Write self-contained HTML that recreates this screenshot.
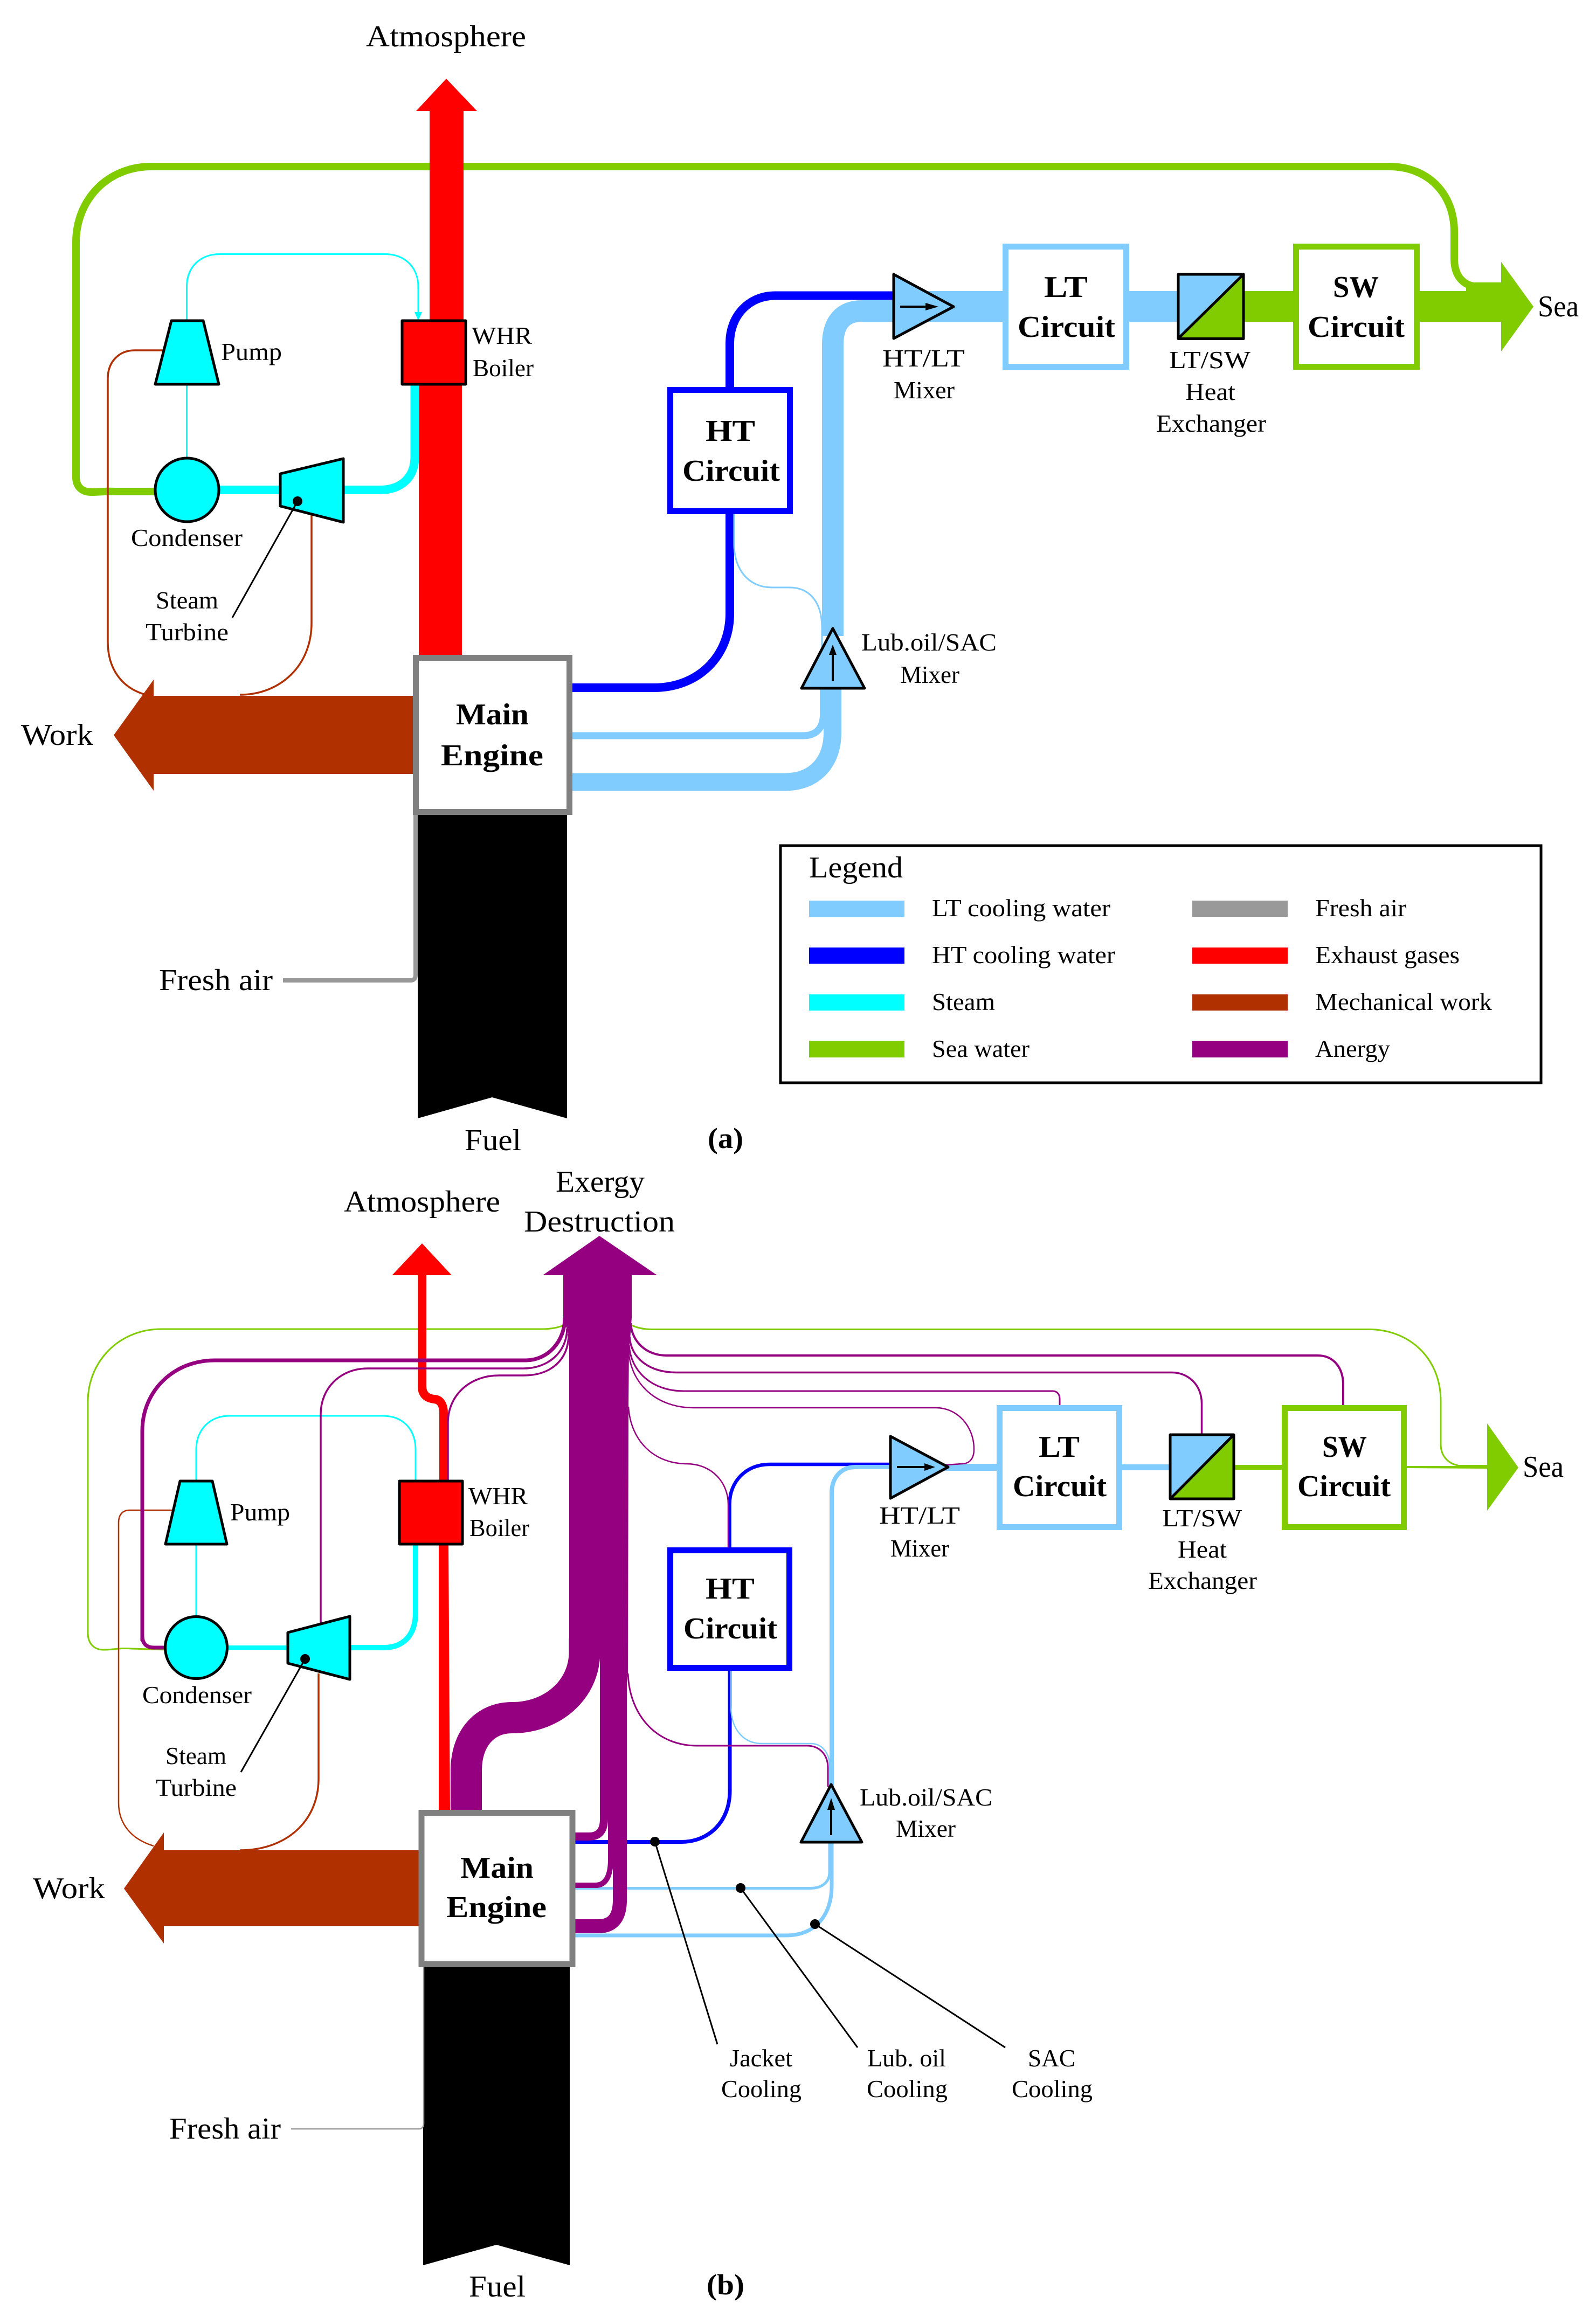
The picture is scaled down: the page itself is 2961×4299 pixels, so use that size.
<!DOCTYPE html>
<html><head><meta charset="utf-8"><title>Exergy flow diagram</title>
<style>
html,body{margin:0;padding:0;background:#fff}
svg{display:block}
text{font-family:"Liberation Serif",serif;font-size:46px;fill:#000}
.b{font-size:56px;font-weight:bold}
.l{font-size:56px}
.p{fill:none}
.k{stroke:#000;stroke-width:5;stroke-linejoin:round}
</style></head><body>
<svg xmlns="http://www.w3.org/2000/svg" width="2961" height="4299" viewBox="0 0 2961 4299">
<rect width="2961" height="4299" fill="#fff"/>

<!-- ============ PANEL A ============ -->
<!-- green loop -->
<path class="p" stroke="#80cc00" stroke-width="14" d="M2744,532 C2715,532 2698,512 2698,480 L2698,430 C2698,360 2650,309 2577,309 L281,309 C200,309 141,370 141,450 L141,885 C141,903 152,913 170,913 C185,913 195,911 215,912 L290,912"/>
<path class="p" stroke="#80cc00" stroke-width="16" d="M2720,532 L2790,532"/>
<!-- red -->
<polygon fill="#ff0000" points="828,146 885,206 860,206 860,600 797,600 797,206 772,206"/>
<rect x="777" y="710" width="80" height="510" fill="#ff0000"/>
<!-- steam -->
<path class="p" stroke="#00ffff" stroke-width="3" d="M346.5,850 L346.5,595 M346.5,595 L346.5,532 C346.5,495 372,471.5 408,471.5 L714,471.5 C752,471.5 776,497 776,532 L776,585"/>
<polygon fill="#00ffff" points="769,579 783,579 776,595"/>
<path class="p" stroke="#00ffff" stroke-width="16" d="M400,909 L705,909 C745,909 769.5,885 769.5,848 L769.5,710"/>
<!-- mech thin -->
<path class="p" stroke="#b03000" stroke-width="3.5" d="M302,650 L250,650 C220,650 200,672 200,702 L200,1191 C200,1240 225,1275 267,1288"/>
<path class="p" stroke="#b03000" stroke-width="3.5" d="M578,950 L578,1156 C578,1235 520,1289 445,1289"/>
<!-- components -->
<polygon class="k" fill="#00ffff" points="318,595 377,595 406,713 288,713"/>
<circle class="k" cx="347" cy="909" r="59" fill="#00ffff"/>
<polygon class="k" fill="#00ffff" points="520,879 637,851 637,969 520,939"/>
<rect class="k" x="746" y="595" width="118" height="118" fill="#ff0000"/>
<circle cx="552" cy="930" r="9" fill="#000"/>
<line x1="552" y1="930" x2="431" y2="1146" stroke="#000" stroke-width="3"/>
<!-- work arrow -->
<polygon fill="#b03000" points="211,1364 285,1261 285,1291 770,1291 770,1436 285,1436 285,1467"/>
<!-- fuel -->
<polygon fill="#000" points="775,1505 1052,1505 1052,2075 913,2036 775,2075"/>
<!-- fresh air -->
<path class="p" stroke="#999999" stroke-width="8" d="M525,1819 L762,1819 C768,1819 771,1815 771,1809 L771,1510"/>
<!-- HT -->
<path class="p" stroke="#0000ff" stroke-width="16" d="M1354,720 L1354,637 C1354,585 1390,548.5 1438,548.5 L1660,548.5"/>
<path class="p" stroke="#0000ff" stroke-width="16" d="M1354,950 L1354,1138 C1354,1218 1295,1276 1213,1276 L1060,1276"/>
<!-- LT -->
<path class="p" stroke="#80ccff" stroke-width="40" d="M1545,1180 L1545,640 C1545,597 1565,577 1600,577 L1665,577"/>
<rect x="1700" y="540" width="165" height="57" fill="#80ccff"/>
<rect x="2090" y="540" width="100" height="57" fill="#80ccff"/>
<path class="p" stroke="#80ccff" stroke-width="33" d="M1060,1451 L1456,1451 C1515,1451 1544.5,1410 1544.5,1360 L1544.5,1270"/>
<path class="p" stroke="#80ccff" stroke-width="13" d="M1060,1365 L1490,1365 C1515,1365 1527.5,1350 1527.5,1325 L1527.5,1270"/>
<path class="p" stroke="#80ccff" stroke-width="3" d="M1362,950 L1362,1010 C1362,1058 1390,1090 1432,1090 L1465,1090 C1500,1090 1525,1115 1525,1165 L1525,1220"/>
<!-- green band and arrow -->
<rect x="2300" y="540" width="105" height="57" fill="#80cc00"/>
<polygon fill="#80cc00" points="2630,540 2785,540 2785,486 2845,569 2785,652 2785,597 2630,597"/>
<!-- mixers -->
<polygon class="k" fill="#80ccff" points="1658,509 1769,569 1658,628"/>
<line x1="1670" y1="569" x2="1725" y2="569" stroke="#000" stroke-width="4"/>
<polygon points="1717,562 1741,569 1717,576"/>
<polygon class="k" fill="#80ccff" points="1545,1166 1487,1277 1604,1277"/>
<line x1="1545" y1="1264" x2="1545" y2="1210" stroke="#000" stroke-width="4"/>
<polygon points="1538,1215 1545,1196 1552,1215"/>
<!-- HX -->
<polygon fill="#80ccff" points="2186,509 2307,509 2186,628"/>
<polygon fill="#80cc00" points="2307,509 2307,628 2186,628"/>
<rect class="k" x="2186" y="509" width="121" height="119.500" fill="none"/>
<line x1="2186" y1="628" x2="2307" y2="509" stroke="#000" stroke-width="5"/>
<!-- boxes -->
<rect x="771.500" y="1220.500" width="285" height="286" fill="#fff" stroke="#808080" stroke-width="11"/>
<rect x="1243.500" y="723.500" width="222" height="225" fill="#fff" stroke="#0000ff" stroke-width="11"/>
<rect x="1865.500" y="457.500" width="224" height="223" fill="#fff" stroke="#80ccff" stroke-width="11"/>
<rect x="2404.500" y="457.500" width="224" height="223" fill="#fff" stroke="#80cc00" stroke-width="11"/>
<!-- texts A -->
<text class="l" x="679" y="86" textLength="297" lengthAdjust="spacingAndGlyphs">Atmosphere</text>
<text x="875" y="638" textLength="112" lengthAdjust="spacingAndGlyphs">WHR</text>
<text x="877" y="698" textLength="113" lengthAdjust="spacingAndGlyphs">Boiler</text>
<text x="410" y="668" textLength="113" lengthAdjust="spacingAndGlyphs">Pump</text>
<text x="243" y="1013" textLength="207" lengthAdjust="spacingAndGlyphs">Condenser</text>
<text x="289" y="1129" textLength="116" lengthAdjust="spacingAndGlyphs">Steam</text>
<text x="270" y="1188" textLength="154" lengthAdjust="spacingAndGlyphs">Turbine</text>
<text class="l" x="39" y="1382" textLength="134" lengthAdjust="spacingAndGlyphs">Work</text>
<text class="l" x="295" y="1837" textLength="211" lengthAdjust="spacingAndGlyphs">Fresh air</text>
<text class="l" x="862" y="2134" textLength="105" lengthAdjust="spacingAndGlyphs">Fuel</text>
<text class="b" x="846" y="1344" textLength="135" lengthAdjust="spacingAndGlyphs">Main</text>
<text class="b" x="818" y="1420" textLength="190" lengthAdjust="spacingAndGlyphs">Engine</text>
<text class="b" x="1309" y="818" textLength="92" lengthAdjust="spacingAndGlyphs">HT</text>
<text class="b" x="1266" y="892" textLength="181" lengthAdjust="spacingAndGlyphs">Circuit</text>
<text class="b" x="1937" y="551" textLength="81" lengthAdjust="spacingAndGlyphs">LT</text>
<text class="b" x="1888" y="625" textLength="181" lengthAdjust="spacingAndGlyphs">Circuit</text>
<text class="b" x="2473" y="551" textLength="85" lengthAdjust="spacingAndGlyphs">SW</text>
<text class="b" x="2426" y="625" textLength="180" lengthAdjust="spacingAndGlyphs">Circuit</text>
<text x="1637" y="680" textLength="153" lengthAdjust="spacingAndGlyphs">HT/LT</text>
<text x="1658" y="739" textLength="113" lengthAdjust="spacingAndGlyphs">Mixer</text>
<text x="2169" y="683" textLength="151" lengthAdjust="spacingAndGlyphs">LT/SW</text>
<text x="2199" y="742" textLength="93" lengthAdjust="spacingAndGlyphs">Heat</text>
<text x="2145" y="801" textLength="204" lengthAdjust="spacingAndGlyphs">Exchanger</text>
<text class="l" x="2853" y="587" textLength="76" lengthAdjust="spacingAndGlyphs">Sea</text>
<text x="1598" y="1207" textLength="251" lengthAdjust="spacingAndGlyphs">Lub.oil/SAC</text>
<text x="1670" y="1267" textLength="110" lengthAdjust="spacingAndGlyphs">Mixer</text>
<text x="1313" y="2130" font-weight="bold" style="font-size:54px" textLength="66" lengthAdjust="spacingAndGlyphs">(a)</text>

<!-- legend -->
<rect x="1448" y="1569" width="1411" height="440" fill="#fff" stroke="#000" stroke-width="5"/>
<text class="l" x="1501" y="1628" textLength="174" lengthAdjust="spacingAndGlyphs">Legend</text>
<rect x="1501" y="1671" width="177" height="30" fill="#80ccff"/>
<rect x="1501" y="1758" width="177" height="30" fill="#0000ff"/>
<rect x="1501" y="1845" width="177" height="30" fill="#00ffff"/>
<rect x="1501" y="1931" width="177" height="31" fill="#80cc00"/>
<rect x="2212" y="1671" width="177" height="30" fill="#999999"/>
<rect x="2212" y="1758" width="177" height="30" fill="#ff0000"/>
<rect x="2212" y="1845" width="177" height="30" fill="#b03000"/>
<rect x="2212" y="1931" width="177" height="31" fill="#950080"/>
<text x="1729" y="1700" textLength="331" lengthAdjust="spacingAndGlyphs">LT cooling water</text>
<text x="1729" y="1787" textLength="340" lengthAdjust="spacingAndGlyphs">HT cooling water</text>
<text x="1729" y="1874" textLength="117" lengthAdjust="spacingAndGlyphs">Steam</text>
<text x="1729" y="1961" textLength="181" lengthAdjust="spacingAndGlyphs">Sea water</text>
<text x="2440" y="1700" textLength="169" lengthAdjust="spacingAndGlyphs">Fresh air</text>
<text x="2440" y="1787" textLength="268" lengthAdjust="spacingAndGlyphs">Exhaust gases</text>
<text x="2440" y="1874" textLength="328" lengthAdjust="spacingAndGlyphs">Mechanical work</text>
<text x="2440" y="1961" textLength="139" lengthAdjust="spacingAndGlyphs">Anergy</text>

<!-- ============ PANEL B ============ -->
<!-- green thin -->
<path class="p" stroke="#80cc00" stroke-width="3" d="M1048,2458 C1035,2464 1020,2466 1005,2466 L299,2466 C222,2466 163,2525 163,2601 L163,3030 C163,3050 175,3061 192,3061 C210,3061 225,3057 245,3059 L310,3061"/>
<path class="p" stroke="#80cc00" stroke-width="3" d="M1170,2458 C1182,2464 1195,2466.500 1210,2466.500 L2539,2466.500 C2615,2466.500 2673,2520 2673,2600 L2673,2680 C2673,2700 2685,2715 2705,2719"/>
<!-- steam -->
<path class="p" stroke="#00ffff" stroke-width="3" d="M364,3000 L364,2690 C364,2652 390,2627 425,2627 L710,2627 C748,2627 771,2652 771,2690 L771,2750"/>
<path class="p" stroke="#00ffff" stroke-width="8" d="M420,3057 L540,3057"/>
<path class="p" stroke="#00ffff" stroke-width="10" d="M640,3057 L712,3057 C750,3057 771,3032 771,2992 L771,2860"/>
<!-- mech thin -->
<path class="p" stroke="#b03000" stroke-width="2.500" d="M322,2802 L240,2802 C228,2802 220,2810 220,2825 L220,3345 C220,3385 245,3413 285,3425"/>
<path class="p" stroke="#b03000" stroke-width="3.500" d="M591,3105 L591,3300 C591,3380 530,3433 445,3433"/>
<!-- red -->
<path class="p" stroke="#ff0000" stroke-width="16" d="M783,2350 L783,2572 C783,2590 795,2595 806,2596 C818,2597 823,2608 823,2622 L823,2760"/>
<polygon fill="#ff0000" points="783,2307 838,2366 727.500,2366"/>
<polygon fill="#ff0000" points="814,2860 832,2860 835,3365 814,3365"/>
<!-- LT & HT -->
<path class="p" stroke="#0000ff" stroke-width="6.500" d="M1353.500,2875 L1353.500,2791 C1353.500,2748 1385,2717 1427,2717 L1655,2717"/>
<path class="p" stroke="#0000ff" stroke-width="7" d="M1354,3095 L1354,3323 C1354,3380 1315,3417.500 1264,3417.500 L1062,3417.500"/>
<path class="p" stroke="#80ccff" stroke-width="8" d="M1543,3420 L1543,2770 C1543,2742 1560,2722 1587,2722 L1660,2722"/>
<rect x="1710" y="2716" width="145" height="13" fill="#80ccff"/>
<rect x="2076" y="2717" width="100" height="11" fill="#80ccff"/>
<path class="p" stroke="#80ccff" stroke-width="2.500" d="M1356,3095 L1356,3165 C1356,3210 1380,3235 1414,3235 L1504,3235 C1525,3235 1539,3252 1539,3276 L1539,3315"/>
<path class="p" stroke="#80ccff" stroke-width="5" d="M1062,3503.500 L1504,3503.500 C1525,3503.500 1539,3492 1539,3474 L1539,3420"/>
<path class="p" stroke="#80ccff" stroke-width="7" d="M1062,3591 L1459,3591 C1515,3591 1543,3550 1543,3500 L1543,3420"/>
<!-- green -->
<rect x="2285" y="2718" width="100" height="9" fill="#80cc00"/>
<polygon fill="#80cc00" points="2605,2720 2705,2720 2705,2718 2759,2718 2759,2641 2817,2723 2759,2803 2759,2725 2605,2724"/>
<!-- thin anergy -->
<g class="p" stroke="#950080">
<path stroke-width="3" d="M1165,3105 C1168,3185 1220,3239 1293,3239 L1497,3239 C1520,3239 1536,3255 1536,3280 L1536,3315"/>
<path stroke-width="7" d="M264,3045 L264,2655 C264,2580 323,2524 398,2524 L976,2524 C1015,2524 1048,2490 1048,2445"/>
<path stroke-width="7" d="M264,3035 C264,3050 272,3057 286,3057 L310,3057"/>
<path stroke-width="3.500" d="M595,3015 L595,2624 C595,2575 632,2539 682,2539 L972,2539 C1015,2539 1052,2510 1052,2465"/>
<path stroke-width="3.500" d="M831,2750 L831,2640 C831,2590 870,2552 926,2552 L972,2552 C1020,2552 1055,2525 1055,2475"/>
<path stroke-width="4" d="M1170,2455 C1172,2490 1200,2515 1236,2515 L2445,2515 C2472,2515 2492,2535 2492,2570 L2492,2610"/>
<path stroke-width="3.500" d="M1168,2480 C1170,2520 1205,2546.500 1255,2546.500 L2174,2546.500 C2205,2546.500 2229.500,2570 2229.500,2604 L2229.500,2665"/>
<path stroke-width="3" d="M1167,2495 C1170,2545 1210,2581 1268,2581 L1953,2581 C1960,2581 1966,2586 1966,2595 L1966,2610"/>
<path stroke-width="2.500" d="M1166,2505 C1170,2570 1220,2612 1287,2612 L1737,2612 C1775,2612 1807,2645 1807,2689 C1807,2705 1800,2716 1784,2716 L1755,2718"/>
<path stroke-width="2.500" d="M1166,2610 C1170,2675 1215,2716 1274,2716 C1320,2716 1351,2750 1351,2791 L1351,2875"/>
</g>
<!-- big anergy -->
<polygon fill="#950080" points="1112,2293 1219,2366 1172,2366 1172,2445 1169,2485 1167,2498 1166,2610 1165,3110 1163,3112 1163,3376 1113,3376 1113,3077 1056,3077 1056,2480 1045,2445 1045,2366 1007,2366"/>
<path class="p" stroke="#950080" stroke-width="58" d="M1084.500,3040 L1084.500,3065 C1084.500,3135 1025,3187 950,3187 C900,3187 865,3225 865,3285 L865,3370"/>
<g class="p" stroke="#950080">
<path stroke-width="15" d="M1062,3407.500 L1093,3407.500 C1110,3407.500 1120.500,3398 1120.500,3375 L1120.500,3300"/>
<path stroke-width="10" d="M1062,3498 L1105,3498 C1124,3498 1133,3480 1133,3450 L1133,3300"/>
<path stroke-width="26" d="M1062,3574 L1110,3574 C1135,3574 1150,3560 1150,3525 L1150,3300"/>
</g>
<!-- components -->
<polygon class="k" fill="#00ffff" points="334,2748 394,2748 421,2865 307,2865"/>
<circle class="k" cx="364" cy="3057" r="57.500" fill="#00ffff"/>
<polygon class="k" fill="#00ffff" points="534,3029 649,2999 649,3116 534,3086"/>
<rect class="k" x="741" y="2748" width="117" height="117" fill="#ff0000"/>
<circle cx="566" cy="3078" r="9" fill="#000"/>
<line x1="566" y1="3078" x2="447" y2="3288" stroke="#000" stroke-width="3"/>
<!-- work -->
<polygon fill="#b03000" points="230,3504 304,3400 304,3433 780,3433 780,3574 304,3574 304,3606"/>
<!-- fuel -->
<polygon fill="#000" points="785,3645 1057,3645 1057,4203 921,4165 785,4203"/>
<path class="p" stroke="#999999" stroke-width="2.500" d="M540,3950 L778,3950 C783,3950 786,3946 786,3940 L786,3648"/>
<!-- mixers -->
<polygon class="k" fill="#80ccff" points="1652,2665 1759,2722 1652,2780"/>
<line x1="1664" y1="2722" x2="1720" y2="2722" stroke="#000" stroke-width="4"/>
<polygon points="1715,2715 1735,2722 1715,2729"/>
<polygon class="k" fill="#80ccff" points="1542,3311 1486,3418 1599,3418"/>
<line x1="1542" y1="3405" x2="1542" y2="3350" stroke="#000" stroke-width="4"/>
<polygon points="1535,3358 1542,3336 1549,3358"/>
<!-- HX -->
<polygon fill="#80ccff" points="2171,2662 2289,2662 2171,2781"/>
<polygon fill="#80cc00" points="2289,2662 2289,2781 2171,2781"/>
<rect class="k" x="2171" y="2662" width="118" height="119" fill="none"/>
<line x1="2171" y1="2781" x2="2289" y2="2662" stroke="#000" stroke-width="5"/>
<!-- boxes -->
<rect x="782" y="3363.500" width="280" height="281" fill="#fff" stroke="#808080" stroke-width="11"/>
<rect x="1243.500" y="2876.500" width="221" height="218" fill="#fff" stroke="#0000ff" stroke-width="11"/>
<rect x="1854.500" y="2612.500" width="222" height="221" fill="#fff" stroke="#80ccff" stroke-width="11"/>
<rect x="2383.500" y="2612.500" width="221" height="221" fill="#fff" stroke="#80cc00" stroke-width="11"/>
<!-- dots -->
<g fill="#000">
<circle cx="1215" cy="3417" r="9"/><circle cx="1374" cy="3503" r="9"/><circle cx="1512" cy="3570" r="9"/>
</g>
<g stroke="#000" stroke-width="3">
<line x1="1215" y1="3417" x2="1331" y2="3793"/>
<line x1="1374" y1="3503" x2="1591" y2="3799"/>
<line x1="1512" y1="3570" x2="1865" y2="3799"/>
</g>
<!-- texts B -->
<text class="l" x="638" y="2248" textLength="290" lengthAdjust="spacingAndGlyphs">Atmosphere</text>
<text class="l" x="1031" y="2211" textLength="165" lengthAdjust="spacingAndGlyphs">Exergy</text>
<text class="l" x="972" y="2285" textLength="280" lengthAdjust="spacingAndGlyphs">Destruction</text>
<text x="869" y="2791" textLength="110" lengthAdjust="spacingAndGlyphs">WHR</text>
<text x="871" y="2850" textLength="111" lengthAdjust="spacingAndGlyphs">Boiler</text>
<text x="427" y="2821" textLength="111" lengthAdjust="spacingAndGlyphs">Pump</text>
<text x="264" y="3160" textLength="203" lengthAdjust="spacingAndGlyphs">Condenser</text>
<text x="307" y="3273" textLength="113" lengthAdjust="spacingAndGlyphs">Steam</text>
<text x="289" y="3332" textLength="150" lengthAdjust="spacingAndGlyphs">Turbine</text>
<text class="l" x="61" y="3522" textLength="134" lengthAdjust="spacingAndGlyphs">Work</text>
<text class="l" x="314" y="3968" textLength="207" lengthAdjust="spacingAndGlyphs">Fresh air</text>
<text class="l" x="870" y="4261" textLength="105" lengthAdjust="spacingAndGlyphs">Fuel</text>
<text x="1311" y="4257" font-weight="bold" style="font-size:54px" textLength="70" lengthAdjust="spacingAndGlyphs">(b)</text>
<text class="b" x="854" y="3484" textLength="136" lengthAdjust="spacingAndGlyphs">Main</text>
<text class="b" x="828" y="3557" textLength="186" lengthAdjust="spacingAndGlyphs">Engine</text>
<text class="b" x="1309" y="2966" textLength="91" lengthAdjust="spacingAndGlyphs">HT</text>
<text class="b" x="1268" y="3040" textLength="174" lengthAdjust="spacingAndGlyphs">Circuit</text>
<text class="b" x="1927" y="2703" textLength="76" lengthAdjust="spacingAndGlyphs">LT</text>
<text class="b" x="1879" y="2776" textLength="174" lengthAdjust="spacingAndGlyphs">Circuit</text>
<text class="b" x="2453" y="2703" textLength="83" lengthAdjust="spacingAndGlyphs">SW</text>
<text class="b" x="2407" y="2776" textLength="173" lengthAdjust="spacingAndGlyphs">Circuit</text>
<text x="1631" y="2827" textLength="150" lengthAdjust="spacingAndGlyphs">HT/LT</text>
<text x="1652" y="2888" textLength="109" lengthAdjust="spacingAndGlyphs">Mixer</text>
<text x="2156" y="2832" textLength="148" lengthAdjust="spacingAndGlyphs">LT/SW</text>
<text x="2185" y="2890" textLength="91" lengthAdjust="spacingAndGlyphs">Heat</text>
<text x="2130" y="2948" textLength="202" lengthAdjust="spacingAndGlyphs">Exchanger</text>
<text class="l" x="2825" y="2740" textLength="76" lengthAdjust="spacingAndGlyphs">Sea</text>
<text x="1595" y="3350" textLength="246" lengthAdjust="spacingAndGlyphs">Lub.oil/SAC</text>
<text x="1662" y="3408" textLength="111" lengthAdjust="spacingAndGlyphs">Mixer</text>
<text x="1354" y="3834" textLength="116" lengthAdjust="spacingAndGlyphs">Jacket</text>
<text x="1338" y="3891" textLength="149" lengthAdjust="spacingAndGlyphs">Cooling</text>
<text x="1609" y="3834" textLength="146" lengthAdjust="spacingAndGlyphs">Lub. oil</text>
<text x="1608" y="3891" textLength="150" lengthAdjust="spacingAndGlyphs">Cooling</text>
<text x="1907" y="3834" textLength="88" lengthAdjust="spacingAndGlyphs">SAC</text>
<text x="1877" y="3891" textLength="150" lengthAdjust="spacingAndGlyphs">Cooling</text>
</svg>
</body></html>
